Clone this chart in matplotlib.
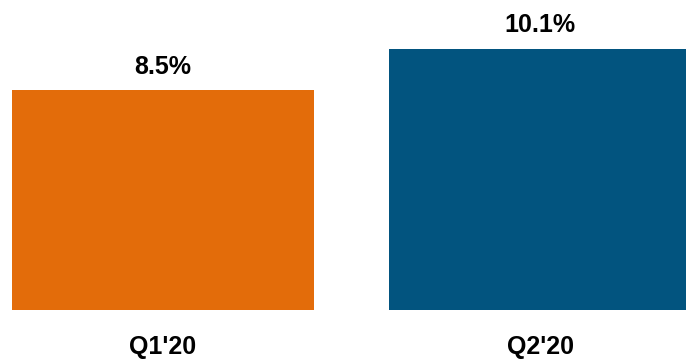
import matplotlib.pyplot as plt

# quarterly values (%)
quarters = ["Q1'20", "Q2'20"]
values = [8.5, 10.1]
colors = ['#E36C0A', '#02547F']

plt.rcParams['font.family'] = ['Liberation Sans', 'DejaVu Sans']

fig = plt.figure(figsize=(6.86, 3.61), dpi=100)
ax = fig.add_axes([0, 51 / 361, 1, 310 / 361])

x = range(len(values))
bars = ax.bar(x, values, width=0.80, color=colors)

for b, v in zip(bars, values):
    ax.annotate(f'{v:.1f}%', (b.get_x() + b.get_width() / 2, v),
                xytext=(0, 12), textcoords='offset points',
                ha='center', va='baseline', fontsize=18, fontweight='bold')

ax.set_xlim(-163 / 377, (686 - 163) / 377)
ax.set_ylim(0, 310 / 25.85)
ax.set_xticks(list(x))
ax.set_xticklabels(quarters, fontsize=18, fontweight='bold')
ax.tick_params(axis='x', length=0, pad=18)
ax.set_yticks([])
for s in ax.spines.values():
    s.set_visible(False)

fig.savefig('out.png', dpi=100)
